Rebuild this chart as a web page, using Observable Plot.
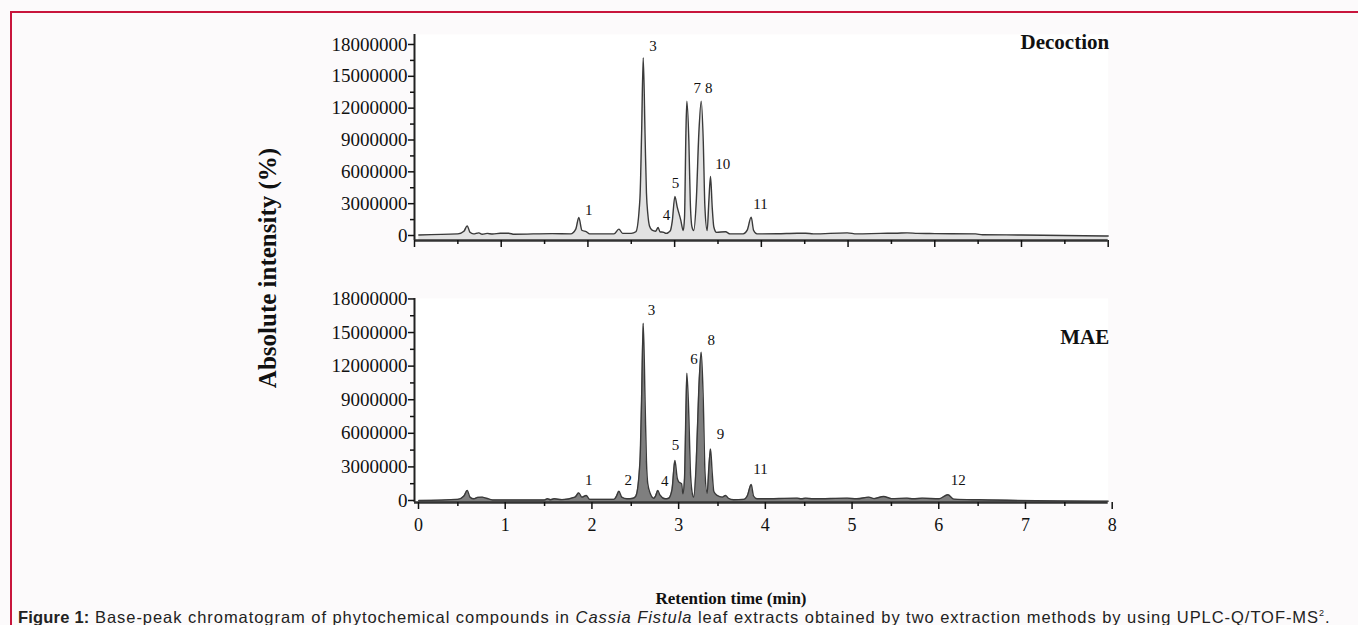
<!DOCTYPE html>
<html><head><meta charset="utf-8">
<script src="https://cdn.jsdelivr.net/npm/d3@7"></script>
<script src="https://cdn.jsdelivr.net/npm/@observablehq/plot@0.6"></script>
<style>
html,body{margin:0;padding:0;background:#fcfafb;}
#page{position:relative;width:1358px;height:625px;overflow:hidden;background:#fcfafb;}
.bt{position:absolute;left:10px;top:11px;width:1348px;height:2px;background:#c8153c;}
.bl{position:absolute;left:10px;top:11px;width:2px;height:614px;background:#c8153c;}
#top{position:absolute;left:0;top:0;}
#bottom{position:absolute;left:0;top:260px;}
#ytitle{position:absolute;left:268px;top:268px;transform:translate(-50%,-50%) rotate(-90deg);font:bold 25px "Liberation Serif";white-space:nowrap;color:#111;}
#xtitle{position:absolute;left:731px;top:599px;transform:translate(-50%,-50%);font:bold 17px "Liberation Serif";white-space:nowrap;color:#111;}
#caption{position:absolute;left:18px;top:617px;transform:translateY(-50%);font:16.5px "Liberation Sans";letter-spacing:0.95px;white-space:nowrap;color:#222;line-height:1;}
#caption sup{font-size:9px;}
</style></head>
<body>
<div id="page">
  <div class="bt"></div><div class="bl"></div>
  <div id="top"></div>
  <div id="bottom"></div>
  <div id="ytitle">Absolute intensity (%)</div>
  <div id="xtitle">Retention time (min)</div>
  <div id="caption"><b style="letter-spacing:0.2px">Figure 1:</b> Base-peak chromatogram of phytochemical compounds in <i>Cassia Fistula</i> leaf extracts obtained by two extraction methods by using UPLC-Q/TOF-MS<sup>2</sup>.</div>
</div>
<script>
// ---- data ----
const xMajorTicks = [0,1,2,3,4,5,6,7,8];
const xMinorTicks = [0.5,1.5,2.5,3.5,4.5,5.5,6.5,7.5];
const yMajorTicks = [0,3000000,6000000,9000000,12000000,15000000,18000000];
const yMinorTicks = [1500000,4500000,7500000,10500000,13500000,16500000];

const decoctionTime = [0.05,0.50,0.57,0.608,0.64,0.68,0.742,0.78,0.838,0.90,0.99,1.085,1.15,1.588,1.80,1.86,1.895,1.93,1.984,2.02,2.30,2.357,2.40,2.50,2.553,2.60,2.62,2.638,2.66,2.675,2.691,2.71,2.74,2.78,2.81,2.83,2.876,2.90,2.93,2.953,2.972,3.003,3.03,3.07,3.099,3.114,3.13,3.141,3.164,3.18,3.20,3.22,3.25,3.279,3.307,3.33,3.349,3.375,3.395,3.414,3.433,3.452,3.483,3.587,3.64,3.79,3.837,3.883,3.91,3.95,4.18,4.414,4.51,4.60,4.99,5.10,5.375,5.57,5.68,5.80,6.00,6.47,6.55,7.00,8.00];
const decoctionIntensity = [0.05e6,0.15e6,0.4e6,0.91e6,0.3e6,0.15e6,0.25e6,0.12e6,0.2e6,0.14e6,0.22e6,0.22e6,0.12e6,0.18e6,0.15e6,0.6e6,1.7e6,0.5e6,0.35e6,0.15e6,0.15e6,0.6e6,0.2e6,0.2e6,0.35e6,3.5e6,10e6,16.75e6,9e6,4e6,2e6,0.9e6,0.5e6,0.4e6,0.75e6,0.35e6,0.3e6,0.2e6,0.3e6,0.5e6,1.3e6,3.68e6,2.68e6,1.48e6,0.47e6,1.7e6,9.6e6,12.66e6,8.9e6,3.3e6,0.8e6,0.47e6,3.3e6,9.6e6,12.66e6,8.9e6,2.7e6,0.47e6,3.3e6,5.56e6,2.7e6,0.8e6,0.3e6,0.35e6,0.15e6,0.15e6,0.5e6,1.73e6,0.5e6,0.15e6,0.16e6,0.22e6,0.22e6,0.15e6,0.25e6,0.15e6,0.2e6,0.22e6,0.25e6,0.2e6,0.18e6,0.15e6,0.07e6,0.05e6,-0.05e6];

const maeTime = [0.05,0.50,0.57,0.608,0.64,0.685,0.73,0.78,0.83,0.90,1.50,1.533,1.57,1.61,1.70,1.85,1.895,1.93,1.98,2.02,2.30,2.33,2.357,2.39,2.45,2.52,2.553,2.60,2.62,2.638,2.66,2.675,2.69,2.72,2.76,2.78,2.806,2.83,2.89,2.93,2.97,3.003,3.03,3.05,3.08,3.095,3.114,3.13,3.141,3.164,3.18,3.20,3.22,3.25,3.279,3.307,3.33,3.35,3.375,3.395,3.414,3.433,3.452,3.49,3.55,3.587,3.62,3.68,3.80,3.837,3.883,3.91,3.95,3.99,4.414,4.46,4.51,4.60,4.99,5.10,5.24,5.30,5.41,5.50,5.68,5.75,5.856,6.05,6.151,6.22,6.51,8.00];
const maeIntensity = [0,0.1e6,0.4e6,0.89e6,0.3e6,0.15e6,0.28e6,0.3e6,0.2e6,0.05e6,0.05e6,0.15e6,0.07e6,0.15e6,0.08e6,0.3e6,0.68e6,0.3e6,0.45e6,0.1e6,0.1e6,0.4e6,0.83e6,0.3e6,0.15e6,0.2e6,0.4e6,3.5e6,9.5e6,15.83e6,8.5e6,3.5e6,1.5e6,0.6e6,0.2e6,0.4e6,0.89e6,0.5e6,0.15e6,0.2e6,1.0e6,3.57e6,2.0e6,1.64e6,1.5e6,0.6e6,2.0e6,8.0e6,11.37e6,7.5e6,3.0e6,0.8e6,0.3e6,3.5e6,10.0e6,13.24e6,9.0e6,2.5e6,0.65e6,3.0e6,4.61e6,2.5e6,0.8e6,0.45e6,0.3e6,0.45e6,0.2e6,0.06e6,0.1e6,0.4e6,1.43e6,0.4e6,0.15e6,0.15e6,0.21e6,0.15e6,0.21e6,0.15e6,0.21e6,0.15e6,0.3e6,0.17e6,0.36e6,0.17e6,0.21e6,0.15e6,0.21e6,0.15e6,0.51e6,0.12e6,0.06e6,-0.06e6];

const decoctionPeakLabels = ["1","3","4","5","7","8","10","11"];
const decoctionPeakLabelTime = [2.01,2.75,2.907,3.01,3.261,3.394,3.556,3.991];
const decoctionPeakLabelIntensity = [2.36e6,17.8e6,1.89e6,4.93e6,13.9e6,13.9e6,6.76e6,2.92e6];

const maePeakLabels = ["1","2","3","4","5","6","8","9","11","12"];
const maePeakLabelTime = [2.01,2.465,2.734,2.887,3.01,3.222,3.422,3.529,3.991,6.271];
const maePeakLabelIntensity = [1.79e6,1.79e6,17.0e6,1.72e6,4.97e6,12.65e6,14.29e6,5.89e6,2.83e6,1.79e6];

const panelTitles = ["Decoction","MAE"];

// ---- build ----
const W = 1358;
const serif = "'Liberation Serif','Times New Roman',serif";
const toRows = (ts, vs) => ts.map((t,i) => ({t, v: vs[i]}));
const decoction = toRows(decoctionTime, decoctionIntensity);
const mae = toRows(maeTime, maeIntensity);
const decLabels = decoctionPeakLabels.map((s,i)=>({s, t: decoctionPeakLabelTime[i], v: decoctionPeakLabelIntensity[i]}));
const maeLabels = maePeakLabels.map((s,i)=>({s, t: maePeakLabelTime[i], v: maePeakLabelIntensity[i]}));

function panel({data, labels, title, yDomain, height, marginTop, marginBottom, fill, showXLabels, titleDy}) {
  return Plot.plot({
    width: W, height,
    marginLeft: 414, marginRight: W - 1107.7, marginTop, marginBottom,
    x: {domain: [0, 8], axis: null},
    y: {domain: yDomain, axis: null},
    style: {fontFamily: serif, color: "#111", background: "transparent", overflow: "visible"},
    marks: [
      Plot.frame({fill: "white", stroke: "none"}),
      Plot.areaY(data, {x: "t", y1: yDomain[0], y2: "v", fill, curve: "monotone-x"}),
      Plot.lineY(data, {x: "t", y: "v", stroke: "#3a3a3a", strokeWidth: 1.4, curve: "monotone-x"}),
      Plot.ruleX([0], {stroke: "#222", strokeWidth: 2}),
      Plot.ruleY([yDomain[0]], {stroke: "#333", strokeWidth: 2.5}),
      Plot.axisY({ticks: yMajorTicks, label: null, tickSize: 6, tickPadding: 1, tickFormat: d => String(d), fontSize: 19, strokeWidth: 1.5}),
      Plot.axisY({ticks: yMinorTicks, label: null, tickSize: 4, tickFormat: () => "", strokeWidth: 1.5}),
      Plot.axisX({ticks: xMajorTicks, label: null, tickSize: 7, tickPadding: 9, dx: showXLabels ? 4 : 0, tickFormat: showXLabels ? d => String(d) : () => "", fontSize: 18, strokeWidth: 1.5}),
      Plot.axisX({ticks: xMinorTicks, label: null, tickSize: 4, tickFormat: () => "", strokeWidth: 1.5}),
      Plot.text(labels, {x: "t", y: "v", text: "s", fontSize: 15, fill: "#111"}),
      Plot.text([title], {frameAnchor: "top-right", dy: titleDy, dx: 1, fontSize: 21, fontWeight: "bold", fill: "#111"})
    ]
  });
}

document.getElementById("top").append(panel({
  data: decoction, labels: decLabels, title: panelTitles[0],
  yDomain: [-0.47e6, 18.94e6], height: 260, marginTop: 34, marginBottom: 20,
  fill: "#e2e2e2", showXLabels: false, titleDy: 0
}));
document.getElementById("bottom").append(panel({
  data: mae, labels: maeLabels, title: panelTitles[1],
  yDomain: [-0.18e6, 18.04e6], height: 282, marginTop: 38, marginBottom: 40,
  fill: "#7f7f7f", showXLabels: true, titleDy: 31
}));
</script>
</body></html>
